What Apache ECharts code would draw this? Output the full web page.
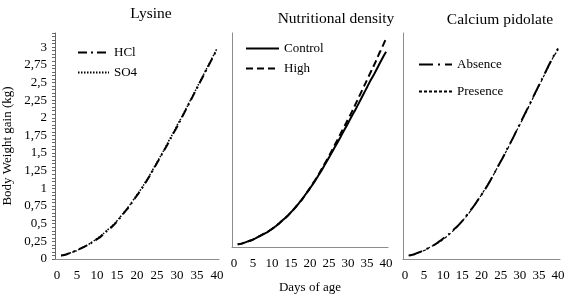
<!DOCTYPE html>
<html>
<head>
<meta charset="utf-8">
<script src="https://cdn.jsdelivr.net/npm/echarts@6/dist/echarts.min.js"></script>
<style>
  html, body { margin: 0; padding: 0; background: #fff; }
  #chart { width: 580px; height: 299px; }
</style>
</head>
<body>
<div id="chart"></div>
<script>
// days of age shown on the x axis (0..40), curves start at day 1
const ageTicks = [];
for (let i = 0; i <= 40; i++) ageTicks.push(String(i));
const days = [1, 2, 3, 4, 5, 6, 7, 8, 9, 10, 11, 12, 13, 14, 15, 16, 17, 18, 19, 20,
  21, 22, 23, 24, 25, 26, 27, 28, 29, 30, 31, 32, 33, 34, 35, 36, 37, 38, 39, 40];

// Lysine
const lysHCl = [0.05, 0.06, 0.08, 0.10, 0.13, 0.15, 0.18, 0.21, 0.24, 0.28, 0.32, 0.37, 0.42, 0.47, 0.53, 0.60, 0.67, 0.74, 0.82, 0.90,
  0.98, 1.07, 1.16, 1.26, 1.36, 1.46, 1.56, 1.66, 1.77, 1.87, 1.98, 2.09, 2.20, 2.31, 2.42, 2.53, 2.64, 2.75, 2.86, 2.97];
const lysSO4 = [0.05, 0.06, 0.08, 0.10, 0.12, 0.15, 0.18, 0.21, 0.25, 0.29, 0.33, 0.38, 0.43, 0.48, 0.54, 0.61, 0.68, 0.75, 0.83, 0.91,
  0.99, 1.08, 1.17, 1.27, 1.37, 1.47, 1.57, 1.68, 1.78, 1.89, 1.99, 2.10, 2.21, 2.32, 2.43, 2.54, 2.65, 2.76, 2.87, 2.98];

// Nutritional density
const ndControl = [0.04, 0.05, 0.07, 0.09, 0.11, 0.14, 0.17, 0.20, 0.23, 0.27, 0.31, 0.36, 0.41, 0.46, 0.52, 0.58, 0.65, 0.72, 0.80, 0.88,
  0.96, 1.05, 1.14, 1.24, 1.34, 1.44, 1.54, 1.64, 1.75, 1.85, 1.96, 2.06, 2.17, 2.28, 2.39, 2.50, 2.60, 2.71, 2.82, 2.92];
const ndHigh = [0.04, 0.05, 0.07, 0.09, 0.11, 0.14, 0.17, 0.20, 0.23, 0.27, 0.31, 0.36, 0.41, 0.46, 0.52, 0.58, 0.65, 0.72, 0.80, 0.88,
  0.97, 1.06, 1.16, 1.26, 1.36, 1.47, 1.58, 1.69, 1.80, 1.91, 2.02, 2.14, 2.26, 2.38, 2.50, 2.62, 2.74, 2.87, 2.99, 3.12];

// Calcium pidolate
const caAbsence = [0.05, 0.06, 0.08, 0.10, 0.13, 0.15, 0.18, 0.21, 0.25, 0.29, 0.33, 0.38, 0.43, 0.48, 0.54, 0.61, 0.68, 0.75, 0.83, 0.91,
  0.99, 1.08, 1.18, 1.28, 1.38, 1.48, 1.59, 1.69, 1.80, 1.91, 2.02, 2.13, 2.24, 2.35, 2.46, 2.57, 2.68, 2.79, 2.89, 2.98];
const caPresence = [0.05, 0.06, 0.08, 0.10, 0.12, 0.15, 0.18, 0.21, 0.24, 0.28, 0.32, 0.37, 0.42, 0.48, 0.54, 0.60, 0.67, 0.75, 0.83, 0.91,
  1.00, 1.09, 1.18, 1.28, 1.38, 1.48, 1.58, 1.69, 1.80, 1.90, 2.01, 2.12, 2.23, 2.34, 2.45, 2.56, 2.67, 2.78, 2.88, 2.96];

const panelTitles = ["Lysine", "Nutritional density", "Calcium pidolate"];

const font = "'Liberation Serif', 'Times New Roman', serif";
const axisGray = "#8c8c8c";

function pairs(vals) {
  return days.map((d, i) => [d, vals[i]]);
}

function line(name, idx, vals, width, type) {
  return {
    name: name,
    type: "line",
    xAxisIndex: idx,
    yAxisIndex: idx,
    data: pairs(vals),
    symbol: "none",
    smooth: true,
    animation: false,
    lineStyle: { color: "#000", width: width, type: type },
    itemStyle: { color: "#000" }
  };
}

function legend(names, left, top, gap, width) {
  return {
    data: names,
    orient: "vertical",
    left: left,
    top: top,
    padding: 0,
    itemWidth: width,
    itemHeight: 14,
    itemGap: gap,
    itemStyle: { opacity: 0 },
    textStyle: { fontFamily: font, fontSize: 13, color: "#000" }
  };
}

const grids = [
  { left: 53, right: 361, top: 33, bottom: 40 },
  { left: 232, right: 192, top: 33, bottom: 40 },
  { left: 403, right: 20, top: 33, bottom: 40 }
];

const chart = echarts.init(document.getElementById("chart"), null, { renderer: "canvas" });

chart.setOption({
  backgroundColor: "#fff",
  title: [
    { text: panelTitles[0], left: 146, top: 1, textAlign: "center" },
    { text: panelTitles[1], left: 331, top: 6, textAlign: "center" },
    { text: panelTitles[2], left: 495, top: 7, textAlign: "center" }
  ].map(t => Object.assign(t, {
    textStyle: { fontFamily: font, fontSize: 15.5, fontWeight: "normal", color: "#000" }
  })),
  legend: [
    legend(["HCl", "SO4"], 77, 46, 7, 31),
    legend(["Control", "High"], 245, 42, 7, 33),
    legend(["Absence", "Presence"], 418, 58, 14, 33)
  ],
  grid: grids,
  xAxis: [0, 1, 2].map(i => ({
    type: "category",
    gridIndex: i,
    data: ageTicks,
    boundaryGap: true,
    name: i === 1 ? "Days of age" : "",
    nameLocation: "middle",
    nameGap: 34,
    nameTextStyle: { fontFamily: font, fontSize: 13, color: "#000" },
    axisLine: { lineStyle: { color: axisGray, width: 1 } },
    axisTick: { show: false },
    axisLabel: { interval: 4, margin: 10, fontFamily: font, fontSize: 13, color: "#000" },
    splitLine: { show: false }
  })),
  yAxis: [0, 1, 2].map(i => ({
    type: "value",
    gridIndex: i,
    min: 0,
    max: 3.2,
    interval: 0.25,
    name: i === 0 ? "Body Weight gain (kg)" : "",
    nameLocation: "middle",
    nameRotate: 90,
    nameGap: 41,
    nameTextStyle: { fontFamily: font, fontSize: 13, color: "#000" },
    axisLine: { show: true, lineStyle: { color: i === 0 ? "#666" : axisGray, width: 1 } },
    axisTick: { show: i === 0, length: 3, lineStyle: { color: "#666" } },
    minorTick: { show: i === 0, splitNumber: 5, length: 3, lineStyle: { color: "#666" } },
    axisLabel: {
      show: i === 0,
      showMaxLabel: false,
      margin: 8,
      fontFamily: font,
      fontSize: 13,
      color: "#000",
      formatter: v => String(+v.toFixed(2)).replace(".", ",")
    },
    splitLine: { show: false }
  })),
  series: [
    line("HCl", 0, lysHCl, 2, [9, 4, 2, 4]),
    line("SO4", 0, lysSO4, 1.5, [1.5, 1.5]),
    line("Control", 1, ndControl, 2, "solid"),
    line("High", 1, ndHigh, 2, [7, 4]),
    line("Absence", 2, caAbsence, 2, [14, 5, 2, 5]),
    line("Presence", 2, caPresence, 1.2, [3, 2])
  ]
});
</script>
</body>
</html>
